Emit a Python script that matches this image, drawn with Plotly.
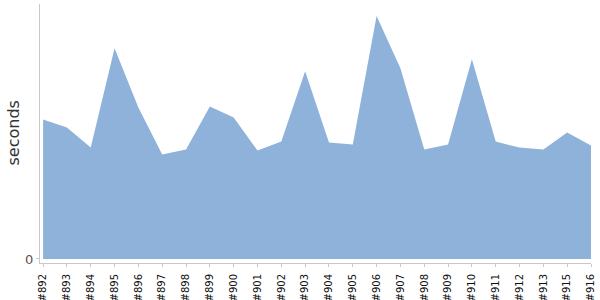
import plotly.graph_objects as go

builds = ["#892", "#893", "#894", "#895", "#896", "#897", "#898", "#899", "#900",
          "#901", "#902", "#903", "#904", "#905", "#906", "#907", "#908", "#909",
          "#910", "#911", "#912", "#913", "#915", "#916"]
seconds = [139, 131, 111, 210, 151, 104, 109, 152, 141, 108, 117, 187, 116, 114,
           242, 190, 109, 114, 199, 117, 111, 109, 126, 113]

fig = go.Figure()
fig.add_trace(go.Scatter(
    x=builds, y=seconds, mode="lines", fill="tozeroy",
    line=dict(width=0, color="#8fb2da"), fillcolor="#8fb2da",
    hoverinfo="x+y",
))

fig.update_layout(
    width=600, height=300,
    margin=dict(l=40, r=9, t=4, b=37, autoexpand=False),
    paper_bgcolor="white", plot_bgcolor="white",
    showlegend=False,
    font=dict(family="DejaVu Sans", color="#222"),
    xaxis=dict(
        type="category", range=[-0.13, 23], showgrid=False, zeroline=False,
        showline=True, linecolor="#c8c8c8", linewidth=1,
        ticks="outside", ticklen=3, tickcolor="#c8c8c8",
        tickangle=-90, tickfont=dict(size=10, color="#111"),
        ticklabelstandoff=3, automargin=False,
    ),
    yaxis=dict(
        range=[-4, 254], showgrid=False, zeroline=False,
        showline=True, linecolor="#c8c8c8", linewidth=1,
        tickvals=[0], ticktext=["0"], ticks="outside", ticklen=3, tickcolor="#c8c8c8",
        tickfont=dict(size=13, color="#555"), automargin=False,
    ),
    annotations=[dict(
        text="seconds", xref="paper", yref="paper", x=0, y=0.5,
        xanchor="center", yanchor="middle", xshift=-27, textangle=-90,
        showarrow=False, font=dict(size=16, color="#333"),
    )],
)

fig.write_html("out.html")
